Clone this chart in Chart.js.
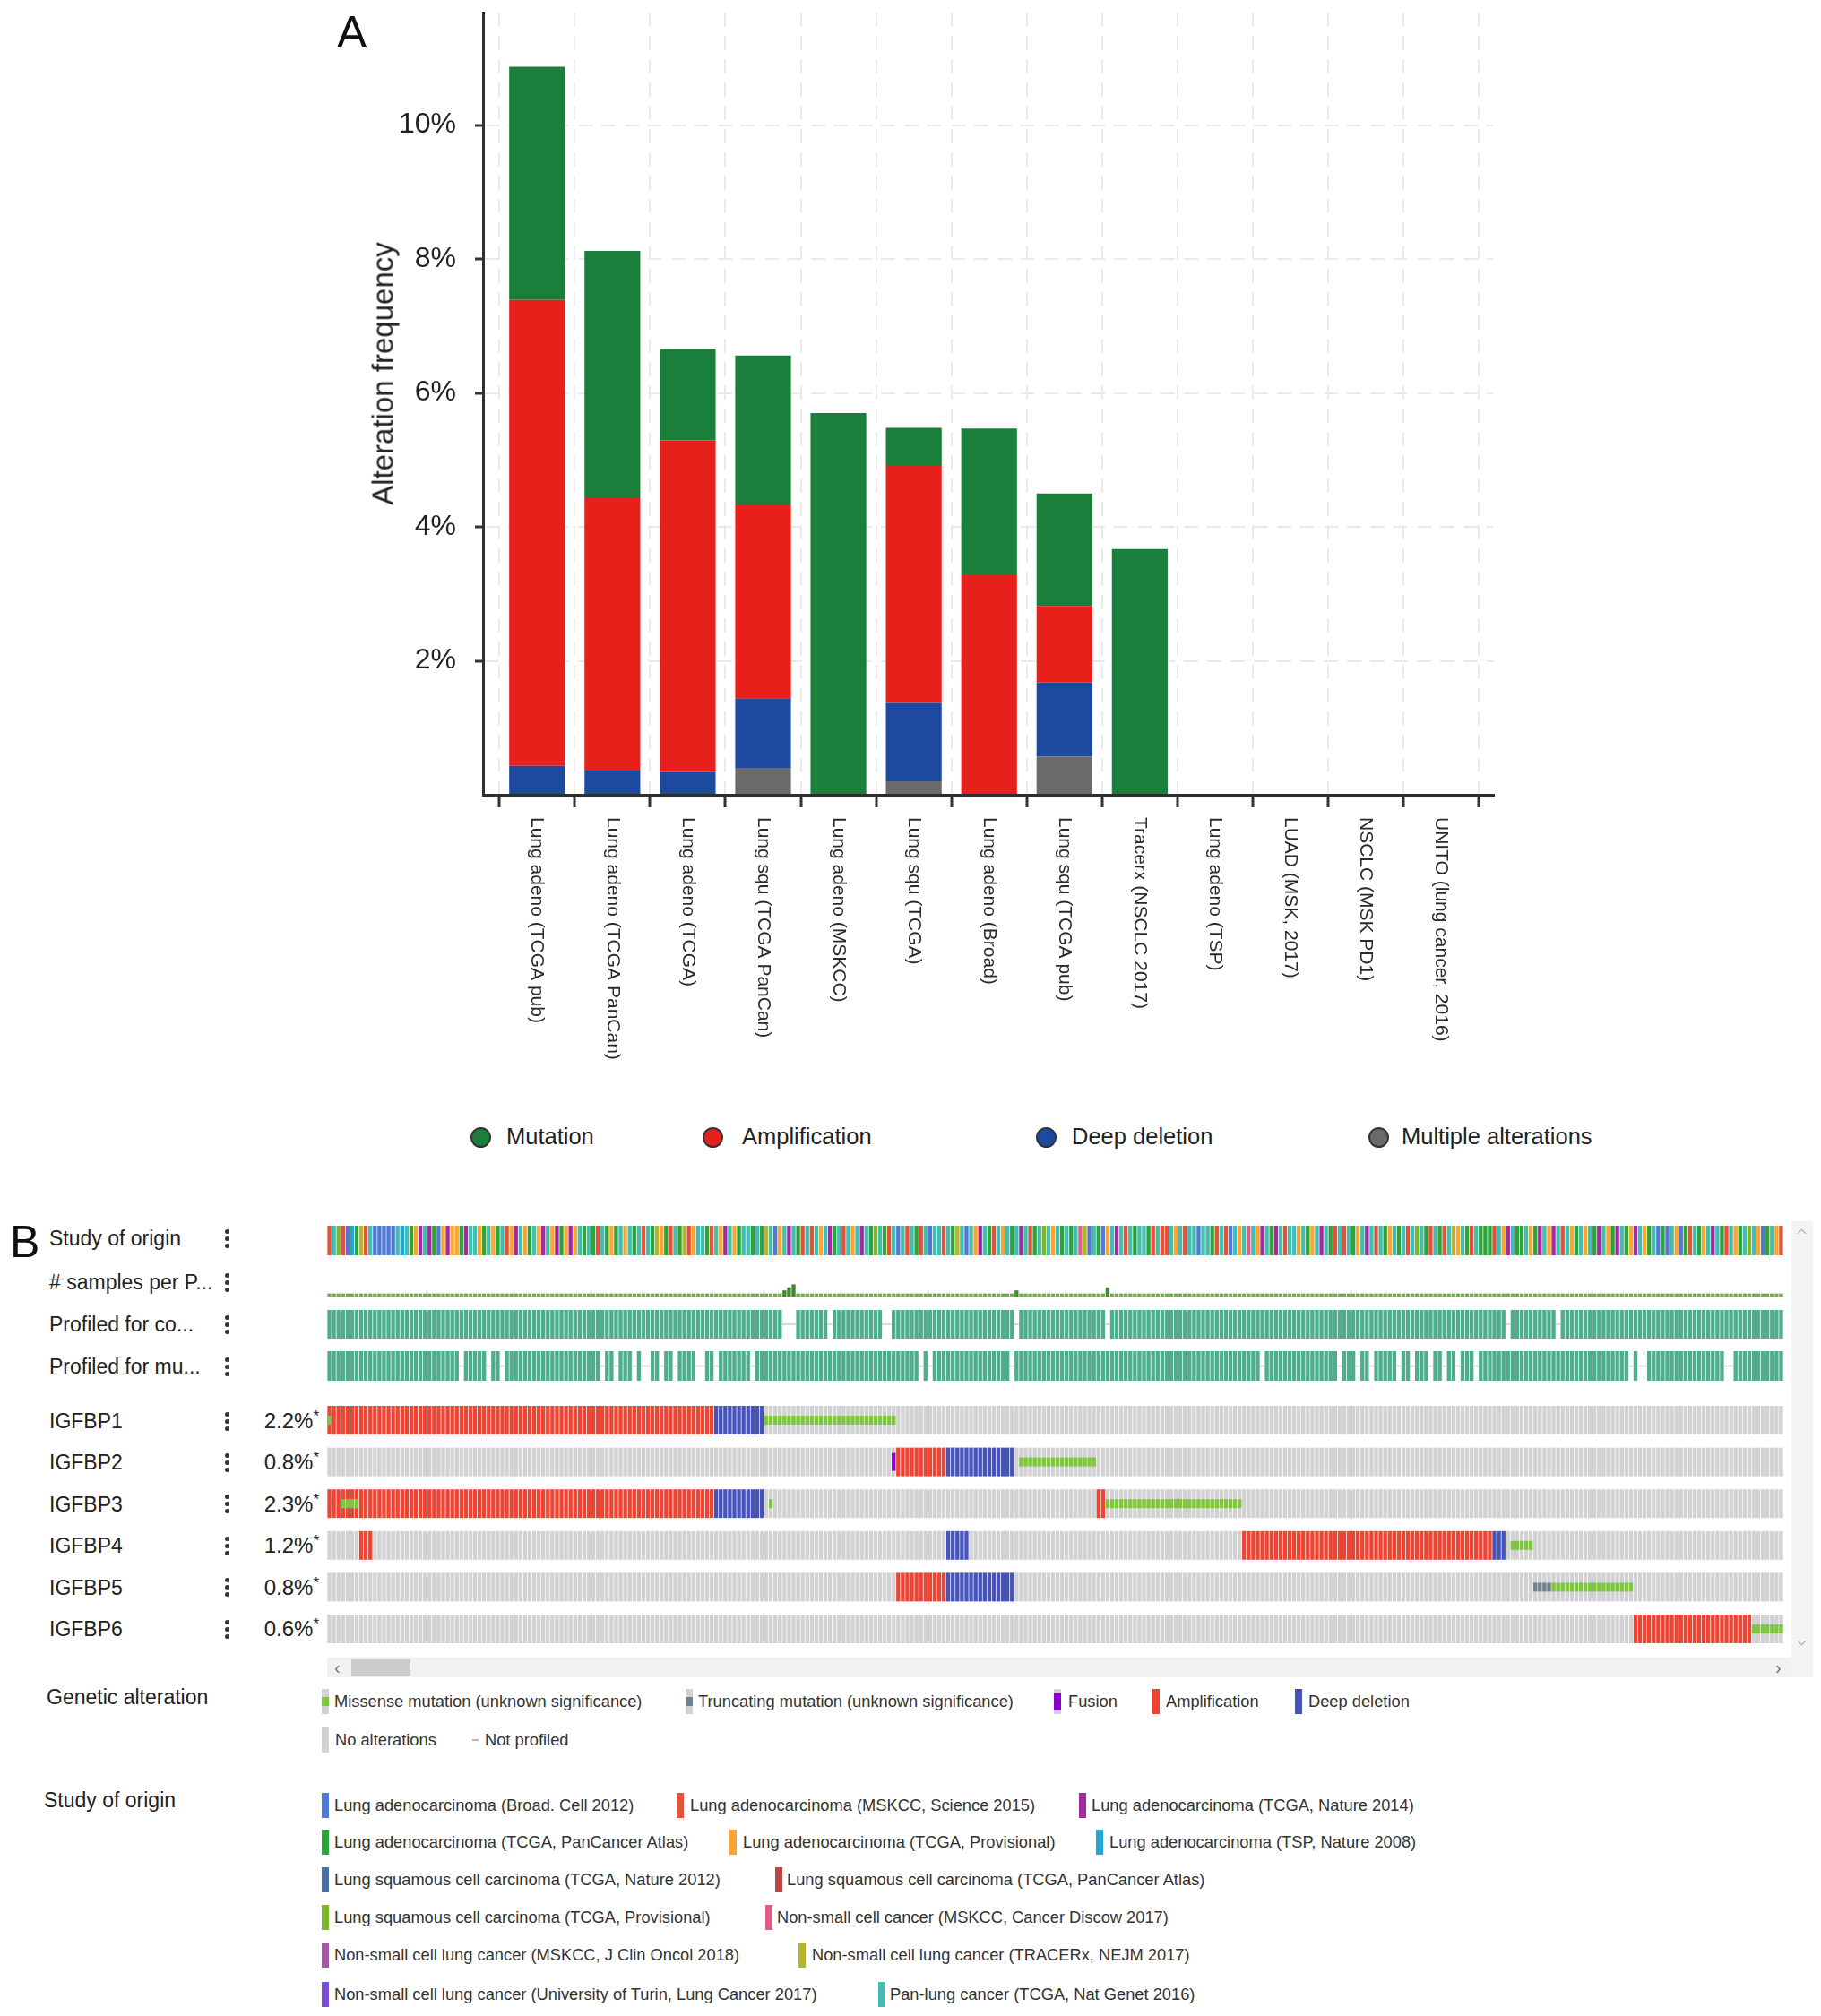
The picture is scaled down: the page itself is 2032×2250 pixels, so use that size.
<!DOCTYPE html>
<html>
<head>
<meta charset="utf-8">
<script src="https://cdn.jsdelivr.net/npm/chart.js@4.4.1/dist/chart.umd.min.js"></script>
<style>
html,body{margin:0;padding:0;background:#fff;}
body{width:2032px;height:2250px;position:relative;overflow:hidden;font-family:"Liberation Sans",Arial,Helvetica,sans-serif;color:#222;}
canvas{position:absolute;}
.t{position:absolute;white-space:nowrap;line-height:1;transform:translateY(-50%);}
.sw{position:absolute;width:8px;height:28px;transform:translateY(-50%);}
.dot{position:absolute;width:5px;height:5px;border-radius:50%;background:#333;}
</style>
</head>
<body>
<canvas id="chartA" width="1720" height="1240" style="left:0;top:0;width:1720px;height:1240px"></canvas>
<canvas id="chartB" width="1625" height="480" style="left:365px;top:1360px;width:1625px;height:480px"></canvas>
<script>
// ================= Panel A data =================
const categories = ['Lung adeno (TCGA pub)','Lung adeno (TCGA PanCan)','Lung adeno (TCGA)','Lung squ (TCGA PanCan)','Lung adeno (MSKCC)','Lung squ (TCGA)','Lung adeno (Broad)','Lung squ (TCGA pub)','Tracerx (NSCLC 2017)','Lung adeno (TSP)','LUAD (MSK, 2017)','NSCLC (MSK PD1)','UNITO (lung cancer, 2016)'];
const seriesNames = ['Mutation','Amplification','Deep deletion','Multiple alterations'];
const mutation            = [3.48,3.69,1.37,2.24,5.70,0.57,2.18,1.68,3.67,0,0,0,0];
const amplification       = [6.96,4.07,4.95,2.88,0,3.54,3.29,1.14,0,0,0,0,0];
const deepDeletion        = [0.43,0.36,0.34,1.04,0,1.17,0,1.11,0,0,0,0,0];
const multipleAlterations = [0,0,0,0.40,0,0.20,0,0.57,0,0,0,0,0];
const yTickValues = [0,2,4,6,8,10];

// ================= Panel B data =================
const sampleCount = 320;
const studyOrder =
  'RTYRBCGLRTBBBBBTCTGO'+'PTPGBOPOOGPTTOGTOGTR'+'OPTOGTOPTOPGOPOTGTGR'+'TGOGTOTGTRTGLOGRTGLR'+
  'OTTGRTOPTOGTTGTGLTBO'+'TPTGRTRTOTPGTRTOTPTG'+'YTGRTBTRTGRTBTTRTGLT'+'BTOPTGRTOTGTPTRGTYTO'+
  'TGTGTKLBTGBOTPTRTGTT'+'GRTRRTOTRTTBTTGRTRBT'+'OTKTOPTGPTRTTOTGOTPT'+'GRTRTGOTPTRTGOTGTRTY'+
  'TGRTGRTLOTGRTGGGRTOP'+'TGGTOGPTOPTRTOGTOTGP'+'TOGPTGOPTOGTBGBTOBGR'+'TGOTPTGRTOGTYTOBGTOR';
const studyCodes = ['B','R','P','G','O','C','D','E','Y','K','M','L','U','T'];
const studyNames = [
  'Lung adenocarcinoma (Broad. Cell 2012)','Lung adenocarcinoma (MSKCC, Science 2015)','Lung adenocarcinoma (TCGA, Nature 2014)',
  'Lung adenocarcinoma (TCGA, PanCancer Atlas)','Lung adenocarcinoma (TCGA, Provisional)','Lung adenocarcinoma (TSP, Nature 2008)',
  'Lung squamous cell carcinoma (TCGA, Nature 2012)','Lung squamous cell carcinoma (TCGA, PanCancer Atlas)',
  'Lung squamous cell carcinoma (TCGA, Provisional)','Non-small cell cancer (MSKCC, Cancer Discow 2017)',
  'Non-small cell lung cancer (MSKCC, J Clin Oncol 2018)','Non-small cell lung cancer (TRACERx, NEJM 2017)',
  'Non-small cell lung cancer (University of Turin, Lung Cancer 2017)','Pan-lung cancer (TCGA, Nat Genet 2016)'];
const trackLabels = ['Study of origin','# samples per P...','Profiled for co...','Profiled for mu...'];
const genes = ['IGFBP1','IGFBP2','IGFBP3','IGFBP4','IGFBP5','IGFBP6'];
const genePercent = [2.2,0.8,2.3,1.2,0.8,0.6];
const multiSampleCols   = [100,101,102,151,171];
const multiSampleCounts = [2,3,4,2,3];
const notProfiledCNA = [100,101,102,110,122,123,151,171,259,270];
const notProfiledMut = [29,35,38,60,63,67,69,70,73,76,81,82,85,93,130,132,150,205,222,226,229,235,238,242,245,248,252,286,288,289,307,308];
const ampRuns      = [[[0,84]], [[125,135]], [[0,84],[169,170]], [[7,9],[201,255]], [[125,135]], [[287,312]]];
const delRuns      = [[[85,95]], [[136,150]], [[85,95]], [[136,140],[256,258]], [[136,150]], []];
const missenseRuns = [[[0,0],[96,124]], [[152,168]], [[3,6],[97,97],[171,200]], [[260,264]], [[269,286]], [[313,319]]];
const truncRuns    = [[], [], [], [], [[265,268]], []];
const fusionRuns   = [[], [[124,124]], [], [], [], []];
const alterationLegend = ['Missense mutation (unknown significance)','Truncating mutation (unknown significance)','Fusion','Amplification','Deep deletion','No alterations','Not profiled'];

// ================= Styles =================
const FONT = '"Liberation Sans", Arial, Helvetica, sans-serif';
const colA = {mut:'#1b7f3c', amp:'#e8201c', del:'#1d4a9f', multi:'#6a6a6a'};
const studyColor = {B:'#4f79d4',R:'#e0533a',P:'#a4299f',G:'#2ea33a',O:'#fba531',C:'#22a6cf',D:'#476fa0',E:'#c04545',Y:'#7bb52a',K:'#e05d89',M:'#a358a3',L:'#b4b42f',U:'#7a4ed3',T:'#44bcb0'};
const colB = {amp:'#ee4434', del:'#4553bb', none:'#d2d2d4', missense:'#7cc83a', trunc:'#708090', fusion:'#8b00c9', prof:'#4eae8c', notprof:'#cfcfcf', spp:'#78a855', spp2:'#3f8a2c'};

// ================= Panel A chart =================
const xy = arr => arr.map((v,i)=>({x:i,y:v}));
const xLabelPlugin = {
  id:'xLabels',
  afterDraw(chart){
    const xs = chart.scales.x, ctx = chart.ctx;
    ctx.save();
    ctx.font = '21px ' + FONT;
    ctx.fillStyle = '#2a2a2a';
    ctx.textAlign = 'left'; ctx.textBaseline = 'middle';
    categories.forEach((lab,i)=>{
      const x = xs.getPixelForValue(i);
      ctx.save(); ctx.translate(x, xs.top + 25); ctx.rotate(Math.PI/2); ctx.fillText(lab,0,0); ctx.restore();
    });
    ctx.restore();
  }
};
new Chart(document.getElementById('chartA'), {
  type:'bar',
  data:{datasets:[
    {label:seriesNames[3], data:xy(multipleAlterations), backgroundColor:colA.multi},
    {label:seriesNames[2], data:xy(deepDeletion), backgroundColor:colA.del},
    {label:seriesNames[1], data:xy(amplification), backgroundColor:colA.amp},
    {label:seriesNames[0], data:xy(mutation), backgroundColor:colA.mut}
  ]},
  options:{
    responsive:false, animation:false, devicePixelRatio:1,
    layout:{padding:{left:0,top:14,right:53,bottom:0}},
    datasets:{bar:{barPercentage:0.74, categoryPercentage:1, borderWidth:0, inflateAmount:0}},
    plugins:{legend:{display:false}, tooltip:{enabled:false}},
    scales:{
      x:{type:'linear', min:-0.717, max:12.70, stacked:true, offset:false,
         afterBuildTicks: s => { s.ticks = categories.map((_,i)=>({value:i})); },
         afterFit: s => { s.height = 353; s.paddingLeft = 0; s.paddingRight = 0; },
         ticks:{display:false},
         grid:{color:'#eaeaea', lineWidth:2, drawTicks:true, tickLength:14, tickColor:'#333', tickWidth:3},
         border:{display:true, color:'#2e2e2e', width:3, dash:[16,10]}},
      y:{type:'linear', min:0, max:11.68, stacked:true,
         afterBuildTicks: s => { s.ticks = yTickValues.map(v=>({value:v})); },
         afterFit: s => { s.width = 539; s.paddingTop = 0; s.paddingBottom = 0; },
         ticks:{callback: v => v===0 ? '' : v+'%', font:{size:32, family:FONT}, color:'#222', padding:21},
         grid:{color: c => (c.tick && c.tick.value===0) ? 'rgba(0,0,0,0)' : '#eaeaea', lineWidth:2, drawTicks:true, tickLength:9,
               tickColor: c => (c.tick && c.tick.value===0) ? 'rgba(0,0,0,0)' : '#333', tickWidth:3},
         border:{display:true, color:'#2e2e2e', width:3, dash:[16,10]}}
    }
  },
  plugins:[xLabelPlugin]
});

// ================= Panel B chart (oncoprint) =================
const N = sampleCount;
const idx = Array.from({length:N},(_,i)=>i);
const expand = runs => new Set(runs.flatMap(([a,b]) => Array.from({length:b-a+1},(_,k)=>a+k)));
const LB = {study:[8,41], sppBase:87, sppUnit:3.4, cna:[102,134], mut:[148,181], geneTop:209, genePitch:46.6, geneH:32, band:[11,21], fusionBand:[6,26]};
const bar = (data, colors, extra) => Object.assign({data, backgroundColor:colors, grouped:false, barPercentage:0.86, categoryPercentage:1, borderWidth:0, inflateAmount:0, order:5}, extra||{});
const dsB = [];
// study of origin
dsB.push(bar(idx.map(i=>({x:i,y:LB.study})), idx.map(i=>studyColor[studyOrder[i]])));
// samples per patient
const sppMap = new Map(multiSampleCols.map((c,k)=>[c,multiSampleCounts[k]]));
dsB.push(bar(idx.map(i=>{const v=sppMap.get(i)||1; return {x:i,y:[LB.sppBase - v*LB.sppUnit, LB.sppBase]};}),
             idx.map(i=> sppMap.has(i) ? colB.spp2 : colB.spp)));
// profiled tracks
[[notProfiledCNA, LB.cna],[notProfiledMut, LB.mut]].forEach(([miss, rng])=>{
  const ms = new Set(miss);
  dsB.push(bar(idx.filter(i=>!ms.has(i)).map(i=>({x:i,y:rng})), colB.prof));
  const mid = (rng[0]+rng[1])/2;
  dsB.push(bar(miss.map(i=>({x:i,y:[mid-0.8, mid+0.8]})), colB.notprof, {barPercentage:1}));
});
// gene tracks
genes.forEach((g,k)=>{
  const top = LB.geneTop + k*LB.genePitch;
  const amp = expand(ampRuns[k]), del = expand(delRuns[k]);
  dsB.push(bar(idx.map(i=>({x:i,y:[top, top+LB.geneH]})), idx.map(i=> amp.has(i)?colB.amp : del.has(i)?colB.del : colB.none)));
  const overlay = (runs, col, band) => {
    const cols = [...expand(runs)];
    if (cols.length) dsB.push(bar(cols.map(i=>({x:i,y:[top+band[0], top+band[1]]})), col, {order:1}));
  };
  overlay(missenseRuns[k], colB.missense, LB.band);
  overlay(truncRuns[k], colB.trunc, LB.band);
  overlay(fusionRuns[k], colB.fusion, LB.fusionBand);
});
new Chart(document.getElementById('chartB'), {
  type:'bar',
  data:{datasets:dsB},
  options:{
    responsive:false, animation:false, devicePixelRatio:1,
    layout:{padding:0},
    plugins:{legend:{display:false}, tooltip:{enabled:false}},
    scales:{
      x:{type:'linear', min:-0.5, max:N-0.5, display:false, offset:false},
      y:{type:'linear', min:0, max:480, reverse:true, display:false}
    }
  }
});

// ================= HTML text & legends =================
function txt(s, x, cy, size, extra){
  const d = document.createElement('div');
  d.className='t';
  d.style.cssText = 'left:'+x+'px;top:'+cy+'px;font-size:'+size+'px;'+(extra||'');
  d.innerHTML = s; document.body.appendChild(d); return d;
}
function box(x, y, w, h, css){
  const d = document.createElement('div');
  d.style.cssText = 'position:absolute;left:'+x+'px;top:'+y+'px;width:'+w+'px;height:'+h+'px;'+(css||'');
  document.body.appendChild(d); return d;
}
// Panel A labels
txt('A', 376, 36, 50, 'color:#111;');
txt('Alteration frequency', 427, 417, 33, 'transform:translate(-50%,-50%) rotate(-90deg);color:#222;');
const legA = [[seriesNames[0], colA.mut, 536, 565],[seriesNames[1], colA.amp, 795, 828],[seriesNames[2], colA.del, 1167, 1196],[seriesNames[3], colA.multi, 1538, 1564]];
legA.forEach(([name,c,cx,tx])=>{
  box(cx-11.5, 1269-11.5, 23, 23, 'box-sizing:border-box;border-radius:50%;background:'+c+';border:2.5px solid #333;');
  txt(name, tx, 1269, 25.5, 'color:#222;');
});
// Panel B labels
txt('B', 11, 1386, 50, 'color:#111;');
const rowCY = [1382,1431,1478,1525];
const geneCY = genes.map((_,k)=>1586 + k*46.4);
function dots(cy){ [-8,0,8].forEach(o=>{ const d=document.createElement('div'); d.className='dot'; d.style.left='251px'; d.style.top=(cy+o-2.5)+'px'; document.body.appendChild(d); }); }
trackLabels.forEach((l,k)=>{ txt(l.replace('#','&#35;'), 55, rowCY[k], 23); dots(rowCY[k]); });
genes.forEach((g,k)=>{
  txt(g, 55, geneCY[k], 23); dots(geneCY[k]);
  txt(genePercent[k].toFixed(1)+'%<span style="font-size:17px;vertical-align:top;position:relative;top:-2px">*</span>', 356, geneCY[k], 24, 'transform:translate(-100%,-50%);');
});
// scrollbars
box(365, 1850, 1635, 22, 'background:#f1f1f1;');
box(392, 1852, 66, 18, 'background:#cdcdcd;');
txt('&#8249;', 373, 1861, 20, 'color:#777;');
txt('&#8250;', 1981, 1861, 20, 'color:#777;');
box(1999, 1363, 24, 509, 'background:#f3f3f3;');
box(2007, 1373, 6, 6, 'border-left:1.5px solid #aaa;border-top:1.5px solid #aaa;transform:rotate(45deg);');
box(2007, 1828, 6, 6, 'border-right:1.5px solid #aaa;border-bottom:1.5px solid #aaa;transform:rotate(45deg);');
// Genetic alteration legend
const LS = 18.3;
txt('Genetic alteration', 52, 1894, 23);
const swMid = (c, mid, h) => 'background:linear-gradient(to bottom,'+colB.none+' 0,'+colB.none+' '+(14-h/2)+'px,'+c+' '+(14-h/2)+'px,'+c+' '+(14+h/2)+'px,'+colB.none+' '+(14+h/2)+'px);';
const altItems = [
  [alterationLegend[0], 359, 373, 1899, swMid(colB.missense,14,10)],
  [alterationLegend[1], 765, 779, 1899, swMid(colB.trunc,14,10)],
  [alterationLegend[2], 1176, 1192, 1899, swMid(colB.fusion,14,20)],
  [alterationLegend[3], 1286, 1301, 1899, 'background:'+colB.amp+';'],
  [alterationLegend[4], 1445, 1460, 1899, 'background:'+colB.del+';'],
  [alterationLegend[5], 359, 374, 1942, 'background:'+colB.none+';']
];
altItems.forEach(([name, sx, tx, cy, css])=>{
  const s = document.createElement('div'); s.className='sw'; s.style.cssText = 'left:'+sx+'px;top:'+cy+'px;'+css; document.body.appendChild(s);
  txt(name, tx, cy, LS, 'color:#333;');
});
box(527, 1941, 7, 2, 'background:#bbb;');
txt(alterationLegend[6], 541, 1942, LS, 'color:#333;');
// Study of origin legend
txt('Study of origin', 49, 2009, 23);
const studyLegendPos = [
  [359,373,2015],[755,770,2015],[1204,1218,2015],
  [359,373,2056],[814,829,2056],[1223,1238,2056],
  [359,373,2098],[865,878,2098],
  [359,373,2140],[854,867,2140],
  [359,373,2182],[891,906,2182],
  [359,373,2226],[980,993,2226]];
studyNames.forEach((name,k)=>{
  const [sx,tx,cy] = studyLegendPos[k];
  const s = document.createElement('div'); s.className='sw'; s.style.cssText = 'left:'+sx+'px;top:'+cy+'px;background:'+studyColor[studyCodes[k]]+';'; document.body.appendChild(s);
  txt(name, tx, cy, LS, 'color:#333;');
});
</script>
</body>
</html>
